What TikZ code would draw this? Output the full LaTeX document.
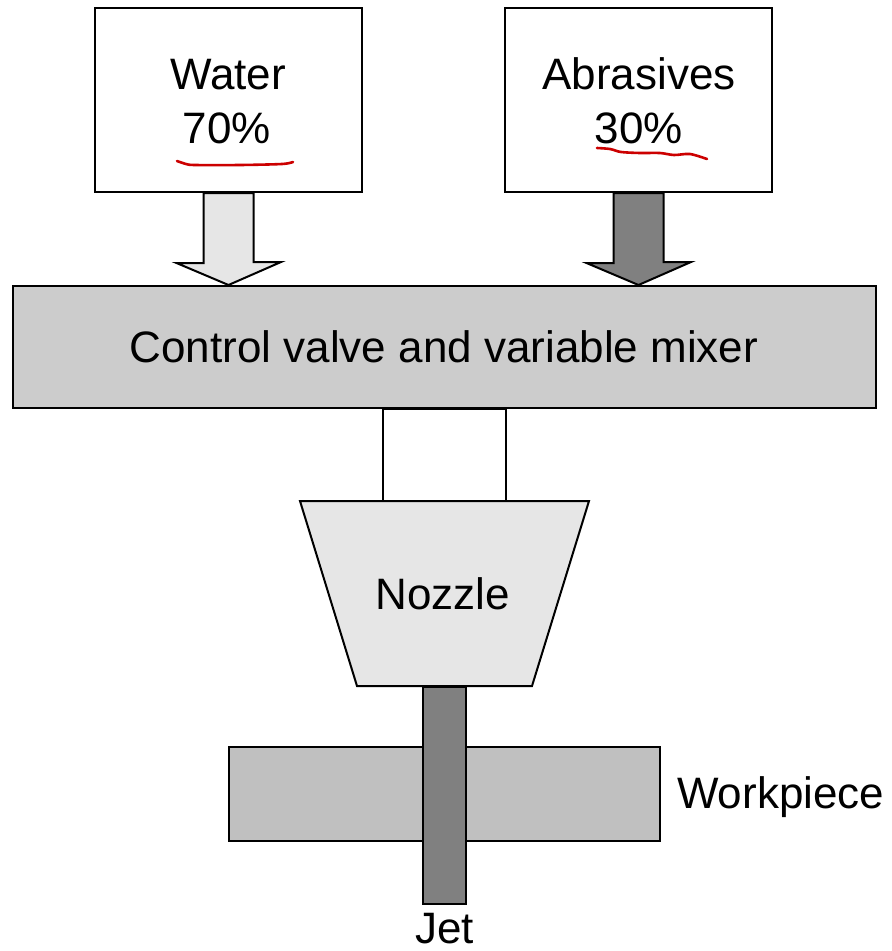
\documentclass[tikz,border=0pt]{standalone}
\usepackage{fontspec}
\setmainfont{Liberation Sans}
\begin{document}
\begin{tikzpicture}[x=1pt,y=-1pt,
  outline/.style={draw=black, line width=2pt, line join=miter},
  lbl/.style={anchor=base, inner sep=0pt, font=\fontsize{44}{50}\selectfont},
  redline/.style={draw=red!80!black, line width=2.6pt, line cap=round, line join=round},
  flowarrow/.style={outline}]
\useasboundingbox (0,0) rectangle (892,951);
\definecolor{lightfill}{HTML}{E6E6E6}
\definecolor{midfill}{HTML}{CCCCCC}
\definecolor{workfill}{HTML}{C0C0C0}
\definecolor{darkfill}{HTML}{808080}

% source boxes
\node[outline, fill=white, minimum width=267pt, minimum height=184pt, inner sep=0pt] (water) at (228.5,100) {};
\node[outline, fill=white, minimum width=267pt, minimum height=184pt, inner sep=0pt] (abr) at (638.5,100) {};
\node[lbl] (watert) at (228,89) {Water};
\node[lbl] (waterp) at (227,143) {70\%};
\node[lbl] (abrt) at (639,89) {Abrasives};
\node[lbl] (abrp) at (639,143) {30\%};

% red handwritten underlines
\draw[redline] plot[smooth] coordinates {(177,161) (186,164) (195,165) (240,165) (282,164) (293,162)};
\draw[redline] plot[smooth] coordinates {(597,148) (610,149) (621,152) (640,153) (660,153) (674,155) (690,154) (707,159)};

% mixer
\node[outline, fill=midfill, minimum width=863pt, minimum height=122pt, inner sep=0pt] (mixer) at (444,347) {};
\node[lbl] (mixert) at (444,362) {Control valve and variable mixer};

% flow arrows
\coordinate (wtip) at (water.south |- mixer.north);
\coordinate (atip) at (abr.south |- mixer.north);
\draw[flowarrow, fill=lightfill] ([xshift=-25pt]water.south) -- ++(0,70) -- ++(-27,0) -- (wtip) -- ++(52.5,-23) -- ++(-27.5,0) -- ([xshift=25pt]water.south) -- cycle;
\draw[flowarrow, fill=darkfill] ([xshift=-25pt]abr.south) -- ++(0,70) -- ++(-27,0) -- (atip) -- ++(52.5,-23) -- ++(-27.5,0) -- ([xshift=25pt]abr.south) -- cycle;

% connecting tube
\node[outline, fill=white, minimum width=123pt, minimum height=93pt, inner sep=0pt, anchor=north] (tube) at (444.5,408) {};

% nozzle
\draw[outline, fill=lightfill] (300,501) -- (589,501) -- (532,686) -- (357,686) -- cycle;
\node[lbl] (nozzlet) at (443,609) {Nozzle};
\coordinate (nozzleb) at (444.5,686);

% workpiece and jet
\node[outline, fill=workfill, minimum width=431pt, minimum height=94pt, inner sep=0pt] (work) at (444.5,794) {};
\node[outline, fill=darkfill, minimum width=43pt, minimum height=217pt, inner sep=0pt, anchor=north] (jet) at (nozzleb) {};
\node[lbl, anchor=base west] (workt) at (677,808) {Workpiece};
\node[lbl] (jett) at (444.5,943) {Jet};
\end{tikzpicture}
\end{document}
